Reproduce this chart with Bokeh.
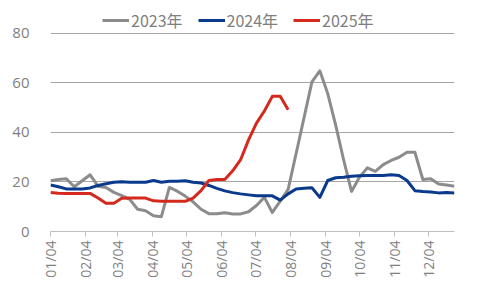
import pandas as pd
from bokeh.plotting import figure
from bokeh.models import (FixedTicker, DatetimeTickFormatter, Legend, LegendItem,
                          Range1d)
from bokeh.embed import file_html
from bokeh.resources import INLINE

# ---- data (weekly) ----
start_date = "2025-01-04"
s2023 = [20.5, 21.0, 21.3, 18.1, 20.5, 22.9, 18.3, 17.8, 15.8, 14.5,
         13.0, 9.0, 8.4, 6.4, 6.0, 17.8, 16.3, 14.3, 12.0, 9.0,
         7.2, 7.2, 7.6, 7.1, 7.1, 8.0, 10.5, 13.8, 7.7, 12.3,
         17.0, 31.4, 45.9, 60.4, 64.9, 55.7, 43.0, 29.0, 16.2, 21.9,
         25.7, 24.3, 27.0, 28.7, 30.0, 32.0, 32.0, 21.0, 21.3, 19.2,
         18.8, 18.3]
s2024 = [18.8, 18.1, 17.2, 17.2, 17.2, 17.6, 18.6, 19.3, 19.9, 20.1,
         19.9, 19.9, 19.9, 20.6, 19.9, 20.3, 20.3, 20.5, 19.9, 19.6,
         18.6, 17.4, 16.4, 15.7, 15.2, 14.8, 14.4, 14.4, 14.4, 12.7,
         15.2, 17.2, 17.5, 17.7, 13.8, 20.6, 21.7, 21.9, 22.3, 22.5,
         22.6, 22.6, 22.6, 22.9, 22.6, 20.6, 16.5, 16.2, 16.0, 15.6,
         15.8, 15.6]
s2025 = [15.8, 15.5, 15.4, 15.4, 15.4, 15.4, 13.5, 11.4, 11.4, 13.4,
         13.5, 13.5, 13.5, 12.4, 12.2, 12.2, 12.2, 12.2, 13.5, 16.5,
         20.6, 21.0, 21.0, 24.5, 29.0, 37.0, 43.8, 48.7, 54.6, 54.6,
         49.2]
series_names = ["2023年", "2024年", "2025年"]
tick_dates = ["2025-01-04", "2025-02-04", "2025-03-04", "2025-04-04",
              "2025-05-04", "2025-06-04", "2025-07-04", "2025-08-04",
              "2025-09-04", "2025-10-04", "2025-11-04", "2025-12-04"]
y_ticks = [0, 20, 40, 60, 80]

colors = ["#8c8c8c", "#0a3a8c", "#d42a1e"]

dates = pd.date_range(start_date, periods=len(s2023), freq="7D")
dates_ms = [d.value // 10**6 for d in dates]

# frame runs up to the top so the legend can sit inside it;
# the y range top is chosen so that 80 lands where the reference has it
p = figure(width=480, height=288, x_axis_type="datetime",
           output_backend="svg", toolbar_location=None,
           min_border_left=50, min_border_right=26,
           min_border_top=5, min_border_bottom=57,
           x_range=Range1d(dates_ms[0], dates_ms[-1]),
           y_range=Range1d(0, 91.3))
p.outline_line_color = None
p.background_fill_color = "white"
p.border_fill_color = "white"

renderers = []
for vals, c in zip([s2023, s2024, s2025], colors):
    r = p.line(dates_ms[:len(vals)], vals, line_color=c, line_width=3,
               line_join="round")
    renderers.append(r)

# axes
p.xgrid.grid_line_color = None
p.ygrid.grid_line_color = "#a6a6a6"
p.ygrid.grid_line_width = 1
p.yaxis.ticker = FixedTicker(ticks=y_ticks)
p.yaxis.axis_line_color = None
p.yaxis.major_tick_line_color = None
p.yaxis.minor_tick_line_color = None
p.yaxis.major_label_text_color = "#7f7f7f"
p.yaxis.major_label_text_font = "Open Sans"
p.yaxis.major_label_text_font_size = "15px"
p.yaxis.major_label_standoff = 15

tick_ms = [pd.Timestamp(d).value // 10**6 for d in tick_dates]
p.xaxis.ticker = FixedTicker(ticks=tick_ms)
fmt = "%m/%d"
p.xaxis.formatter = DatetimeTickFormatter(days=fmt, months=fmt, years=fmt,
                                          hours=fmt, minutes=fmt, seconds=fmt,
                                          milliseconds=fmt, microseconds=fmt,
                                          hourmin=fmt, minsec=fmt)
p.xaxis.major_label_orientation = 3.14159265 / 2
p.xaxis.axis_line_color = "#bfbfbf"
p.xaxis.axis_line_width = 1
p.xaxis.major_tick_line_color = "#bfbfbf"
p.xaxis.major_tick_in = 0
p.xaxis.major_tick_out = 5
p.xaxis.minor_tick_line_color = None
p.xaxis.major_label_text_color = "#7f7f7f"
p.xaxis.major_label_text_font = "Open Sans"
p.xaxis.major_label_text_font_size = "14px"
p.xaxis.major_label_standoff = 4

legend = Legend(items=[LegendItem(label=n, renderers=[r])
                       for n, r in zip(series_names, renderers)],
                orientation="horizontal", location=(52, 199))
legend.label_text_font = "Noto Sans CJK SC"
legend.label_text_font_size = "16px"
legend.label_text_color = "#7f7f7f"
legend.glyph_width = 27
legend.label_standoff = 2
legend.spacing = 15
legend.padding = 0
legend.margin = 0
legend.border_line_color = None
legend.background_fill_alpha = 0
p.add_layout(legend, "center")

open("out.html", "w").write(file_html(p, INLINE))
